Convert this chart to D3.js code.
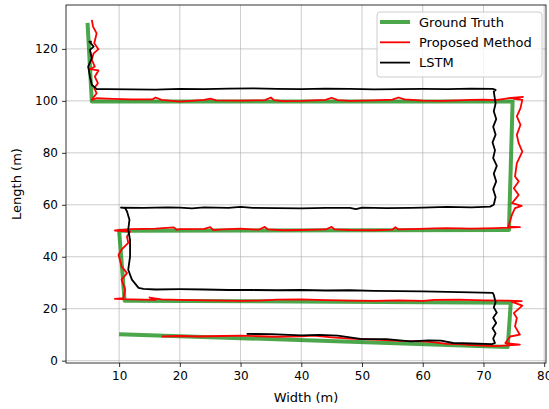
<!DOCTYPE html>
<html><head><meta charset="utf-8">
<script src="https://cdn.jsdelivr.net/npm/d3@7"></script>
<style>body{margin:0;background:#fff}svg{display:block;font-family:"DejaVu Sans",sans-serif}</style>
</head><body><svg id="c" width="549" height="409"></svg>
<script>
const xTicks=[10,20,30,40,50,60,70,80];
const yTicks=[0,20,40,60,80,100,120];
const seriesNames=["Ground Truth","Proposed Method","LSTM"];
const gtX=[10,74,74.5,10.9,10,74.2,74.8,5.5,4.8];
const gtY=[10.2,5.3,22.3,23.1,50,50.3,99.8,99.8,130];
const propX=[17,20,23,27,30,33,36,40,42,45,48,50,53,56,60,62,64,66,68,70,72,74,76,
73.6,74.4,76,75.2,75.5,75,76.4,74.7,76.3,74,
70,66,62,60,56,52,48,44,40,36,33,30,27,24,20,17,15,16,14,12,9.3,
10.7,11,10.4,11.3,10.4,9.9,10.4,11.5,11.3,11.8,9.3,
12,16,19,19.5,20,24,25,25.5,27,30,33,34,34.5,37,40,44,45,45.5,48,52,55,55.5,56,58,62,64,68,72,76,
74.1,74.7,75.2,76.3,74.7,75.8,75,75.8,75.2,75.5,76.4,75.8,75.5,76.1,75.5,76.1,76.4,75,76.5,74,
72,70,68,66,63,60,57,56,55,52,48,46,45,44,40,37,35.5,35,34,30,26,25,24,20,17,16,15.5,12,9,6.3,5.5,
6.3,5.9,6.5,6.0,6.6,5.2,6.0,5.5,5.8,6.6,5.9,6.3,5.7,5.5];
const propY=[9.3,9.5,9.3,9.5,9.6,9.4,9.2,9.4,9.6,9.0,8.5,8.3,8.0,7.6,7.4,7.0,6.5,6.4,6.0,5.8,5.6,5.9,6.2,
6.8,9.3,10,13.2,16.4,18.3,21.2,22.6,22.9,23.1,
23.2,23.5,23.4,23.0,23.2,23.0,23.1,23.3,23.6,23.5,23.1,23.0,23.1,23.2,23.4,23.6,24.3,23.4,23.5,23.6,23.8,
24.1,27.3,31.2,33.7,36.3,40.8,42.7,45.3,47.8,49.7,50.1,
50.6,50.8,51.3,50.4,50.6,50.7,51.4,50.3,50.5,50.8,50.4,51.5,50.5,50.2,50.3,50.5,51.5,50.5,50.3,50.2,50.4,51.4,50.5,50.6,50.9,51.0,50.8,51.0,51.4,
51.6,56.2,58.7,59.6,60.6,63.8,66.4,69,70.9,76,80.5,83.7,86.9,90.8,94,97.2,100.4,100.8,101.5,101,
100.3,100.5,100.4,100.2,100.0,100.1,100.6,101.3,100.5,100.2,100.0,100.3,101.2,100.4,100.0,99.9,100.3,101.3,100.3,100.1,100.2,100.9,100.4,99.7,100.4,101.3,100.6,100.6,100.8,101,100.4,
102.9,104.9,106.8,109.3,111.7,112.2,113.2,115.8,118.3,119.9,122.2,126,128.6,131.2];
const lstmX=[31,35,40,43,46,50,54,58,61,63,65,68,71.4,71.9,
71.6,72,71.5,72.1,71.6,72.2,71.7,72,71.7,71.5,
68,64,60,56,52,48,44,40,36,32,28,24,20,16,14,13.2,
12.1,11.5,11.8,11.8,11.5,11.7,11.3,11,10.3,
14,18,20,22,24,28,30,32,36,40,44,48,49,50,54,58,60,64,68,71.1,
71.7,72,71.6,72.1,71.7,72.2,71.6,71.9,71.5,72,71.6,72.1,71.7,72,71.7,72,71.5,
68,64,60,56,52,48,44,40,36,32,28,24,20,16,12,8,6.3,
5.5,5.2,4.9,5.5,5.2,5.8,5.1,5.5];
const lstmY=[10.3,10.2,9.7,9.9,9.6,8.3,8.3,7.4,7.8,7.7,6.8,6.6,6.4,6.8,
8.5,10.5,12.5,14.5,16.5,18.5,20.5,22.5,25.4,26.1,
26.3,26.5,26.7,26.8,26.9,27.1,27.0,27.2,27.1,27.2,27.2,27.4,27.5,27.4,27.6,28,
31.2,35,40,46.5,50.4,54.2,57.4,58.7,58.9,
58.8,59.0,58.9,58.6,59.0,58.8,59.2,58.8,58.7,58.6,58.8,58.8,58.3,58.9,58.7,58.8,58.9,59.2,59.0,59.3,
60,63,66,69,72,75,78,81,84,87,90,93,96,99,103.6,104.2,104.6,
104.7,104.5,104.6,104.5,104.4,104.6,104.7,104.5,104.6,104.8,104.7,104.5,104.6,104.3,104.4,104.5,104.5,
106.2,109.3,113.2,116.4,119.6,120.9,122.8,122.8];

const svg=d3.select("#c");
const L=66,R=546,T=5,B=363;
const x=d3.scaleLinear().domain([1.25,80.3]).range([L,R]);
const y=d3.scaleLinear().domain([-0.9,136.9]).range([B,T]);
svg.append("defs").append("clipPath").attr("id","clip").append("rect").attr("x",L).attr("y",T).attr("width",R-L).attr("height",B-T);
const g=svg.append("g");
g.selectAll(".gx").data(xTicks).join("line").attr("x1",d=>x(d)).attr("x2",d=>x(d)).attr("y1",T).attr("y2",B).attr("stroke","#b0b0b0").attr("stroke-width",0.8).attr("opacity",0.8);
g.selectAll(".gy").data(yTicks).join("line").attr("y1",d=>y(d)).attr("y2",d=>y(d)).attr("x1",L).attr("x2",R).attr("stroke","#b0b0b0").attr("stroke-width",0.8).attr("opacity",0.8);
function pts(xs,ys){return xs.map((v,i)=>[v,ys[i]]);}
const line=d3.line().x(d=>x(d[0])).y(d=>y(d[1]));
const pg=svg.append("g").attr("clip-path","url(#clip)");
pg.append("path").attr("d",line(pts(gtX,gtY))).attr("fill","none").attr("stroke","green").attr("stroke-opacity",0.7).attr("stroke-width",4).attr("stroke-linejoin","round");
pg.append("path").attr("d",line(pts(propX,propY))).attr("fill","none").attr("stroke","#ff0000").attr("stroke-width",1.8).attr("stroke-linejoin","round");
pg.append("path").attr("d",line(pts(lstmX,lstmY))).attr("fill","none").attr("stroke","#000").attr("stroke-width",1.8).attr("stroke-linejoin","round");
const xa=svg.append("g").attr("transform",`translate(0,${B})`).call(d3.axisBottom(x).tickValues(xTicks).tickSize(4).tickPadding(4));
const ya=svg.append("g").attr("transform",`translate(${L},0)`).call(d3.axisLeft(y).tickValues(yTicks).tickSize(4).tickPadding(4));
[xa,ya].forEach(a=>{a.select(".domain").remove();a.selectAll("text").attr("font-size",12).attr("fill","#000").attr("font-family","DejaVu Sans");a.selectAll("line").attr("stroke","#000").attr("stroke-width",0.8);});
svg.append("rect").attr("x",L).attr("y",T).attr("width",R-L).attr("height",B-T).attr("fill","none").attr("stroke","#000").attr("stroke-width",0.8);
svg.append("text").attr("x",(L+R)/2).attr("y",402).attr("text-anchor","middle").attr("font-size",13).text("Width (m)");
svg.append("text").attr("transform",`translate(21,${(T+B)/2}) rotate(-90)`).attr("text-anchor","middle").attr("font-size",13).text("Length (m)");
const lg=svg.append("g");
lg.append("rect").attr("x",377).attr("y",12).attr("width",165).attr("height",65).attr("rx",3).attr("fill","#fff").attr("fill-opacity",0.8).attr("stroke","#ccc");
const lcol=["green","#ff0000","#000"],lw=[4,1.8,1.8],lop=[0.7,1,1];
seriesNames.forEach((n,i)=>{const yy=22+i*20.3;
lg.append("line").attr("x1",380).attr("x2",410).attr("y1",yy).attr("y2",yy).attr("stroke",lcol[i]).attr("stroke-width",lw[i]).attr("stroke-opacity",lop[i]);
lg.append("text").attr("x",419).attr("y",yy+4.8).attr("font-size",13).text(n);});
</script></body></html>
